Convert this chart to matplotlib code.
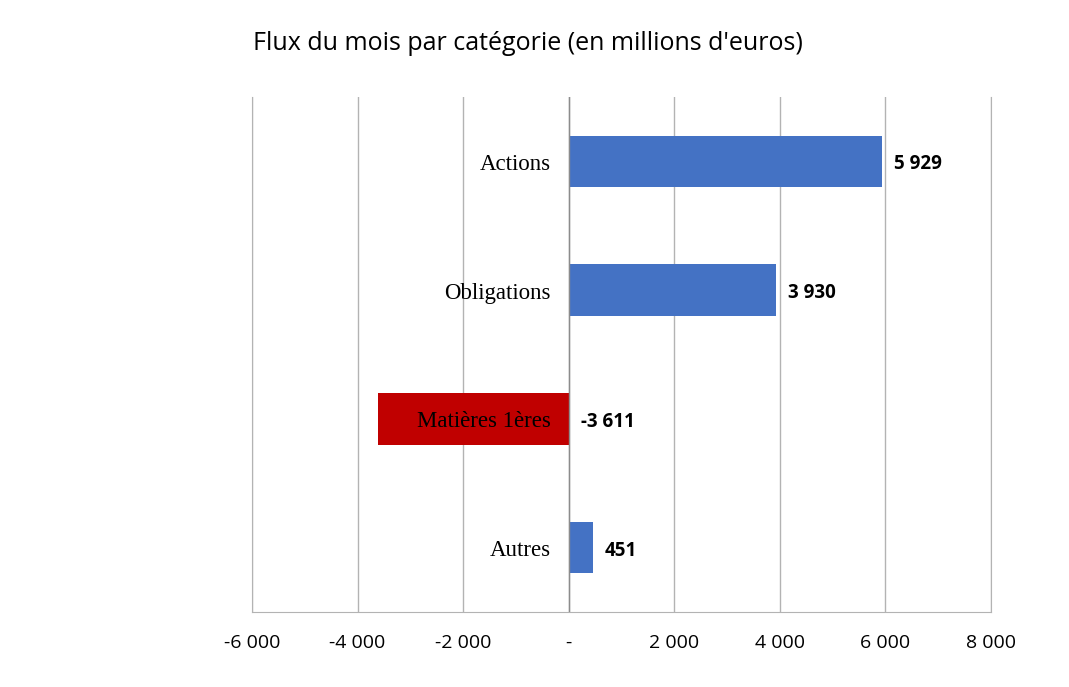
import matplotlib.pyplot as plt
from matplotlib.transforms import offset_copy

# data
categories = ["Actions", "Obligations", "Matières 1ères", "Autres"]
values = [5929, 3930, -3611, 451]
value_labels = ["5 929", "3 930", "-3 611", "451"]
tick_values = [-6000, -4000, -2000, 0, 2000, 4000, 6000, 8000]
tick_labels = ["-6 000", "-4 000", "-2 000", "-", "2 000", "4 000", "6 000", "8 000"]

colors = ["#C00000" if v < 0 else "#4472C4" for v in values]

fig = plt.figure(figsize=(10.69, 6.87), dpi=100)
ax = fig.add_axes([252 / 1069, 75 / 687, 739 / 1069, 515 / 687])

ypos = list(range(len(categories)))[::-1]
ax.barh(ypos, values, height=0.4, color=colors, zorder=2)

ax.set_xlim(-6000, 8000)
ax.set_ylim(-0.5, len(categories) - 0.5)

# grid
ax.set_xticks(tick_values)
ax.set_xticklabels(tick_labels, fontsize=14, family="Open Sans")
ax.xaxis.grid(True, color="#b3b3b3", linewidth=1, zorder=0)
ax.axvline(0, color="#8c8c8c", linewidth=1, zorder=3)
ax.tick_params(axis="x", length=0, pad=16)
ax.set_yticks([])
ax.spines["top"].set_visible(False)
for s in ["left", "right", "bottom"]:
    ax.spines[s].set_color("#b3b3b3")

# category labels left of zero
lab_tr = offset_copy(ax.transData, fig=fig, x=-18, y=-3, units="dots")
for y, c in zip(ypos, categories):
    ax.text(0, y, c, transform=lab_tr, ha="right", va="center",
            fontsize=16.5, family="Liberation Serif", zorder=4)

# value labels
val_tr = offset_copy(ax.transData, fig=fig, x=12, y=-3, units="dots")
for y, v, t in zip(ypos, values, value_labels):
    ax.text(max(v, 0), y, t, transform=val_tr, ha="left", va="center",
            fontsize=13.5, fontweight="bold", family="Open Sans", zorder=4)

fig.text(528 / 1069, 1 - 44 / 687, "Flux du mois par catégorie (en millions d'euros)",
         ha="center", va="center", fontsize=18, family="Open Sans")

fig.savefig("out.png", dpi=100)
